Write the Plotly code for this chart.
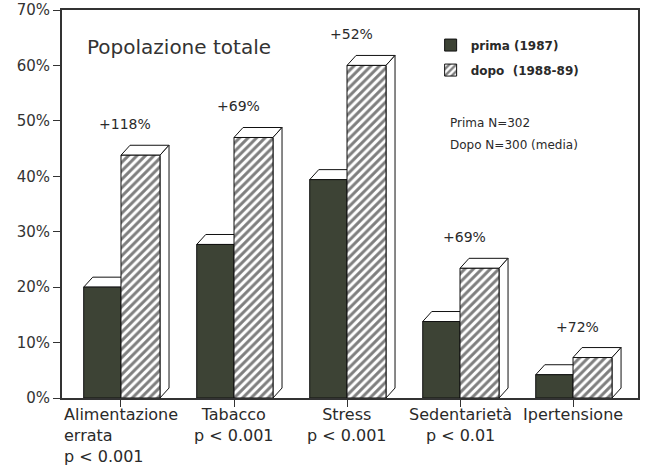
import plotly.graph_objects as go

# Risk factors and survey values (% of the population)
categories = ["Alimentazione", "Tabacco", "Stress", "Sedentarietà", "Ipertensione"]
category_labels = [
    "Alimentazione<br>errata<br>p < 0.001",
    "Tabacco<br>p < 0.001",
    "Stress<br>p < 0.001",
    "Sedentarietà<br>p < 0.01",
    "Ipertensione",
]
prima = [20.0, 27.7, 39.4, 13.8, 4.2]
dopo = [43.8, 47.0, 60.0, 23.4, 7.3]
change_labels = ["+118%", "+69%", "+52%", "+69%", "+72%"]
y_ticks = [0, 10, 20, 30, 40, 50, 60, 70]
y_tick_text = [f"{v}%" for v in y_ticks]

DARK = "#3d4335"
INK = "#2a2a2a"
FONT = "DejaVu Sans"

x_pos = list(range(len(categories)))
W1, W2 = 0.33, 0.345      # bar widths (category units)
DX, DY = 0.08, 1.8        # 3-D depth offset (x units, % units)

fig = go.Figure()
fig.add_trace(go.Bar(
    x=x_pos, y=prima, name="prima (1987)", offset=-W1, width=W1,
    marker=dict(color=DARK, line=dict(color="#111", width=1)),
    legendgroup="a",
))
fig.add_trace(go.Bar(
    x=x_pos, y=dopo, name="dopo\u00a0 (1988-89)", offset=0, width=W2,
    marker=dict(color="white", line=dict(color="#111", width=1),
                pattern=dict(shape="/", size=6, solidity=0.5,
                             fgcolor="#000", bgcolor="white")),
    legendgroup="b",
))

# 3-D faces: top faces and the right-hand side face of the taller bar
shapes = []
face = dict(type="path", xref="x", yref="y", fillcolor="white",
            line=dict(color="#111", width=1), layer="below")
for i, (a, b) in enumerate(zip(prima, dopo)):
    x0 = i - W1
    shapes.append(dict(face, path=(
        f"M{x0},{a} L{i},{a} L{i+DX},{a+DY} L{x0+DX},{a+DY} Z")))
    x1 = i + W2
    shapes.append(dict(face, path=(
        f"M{i},{b} L{x1},{b} L{x1+DX},{b+DY} L{i+DX},{b+DY} Z")))
    shapes.append(dict(face, path=(
        f"M{x1},0 L{x1},{b} L{x1+DX},{b+DY} L{x1+DX},{DY} Z")))

annotations = []
for i, (b, lab) in enumerate(zip(dopo, change_labels)):
    annotations.append(dict(
        x=i, y=b, xref="x", yref="y", text=lab, showarrow=False,
        xshift=4, yshift=31, yanchor="middle",
        font=dict(family=FONT, size=14, color=INK)))

for i, lab in enumerate(category_labels):
    annotations.append(dict(
        x=i, y=0, xref="x", yref="paper", text=lab, showarrow=False,
        yanchor="top", yshift=-5, align="left" if i == 0 else "center",
        font=dict(family=FONT, size=16, color=INK)))

annotations.append(dict(
    x=0.04, y=0.905, xref="paper", yref="paper", text="Popolazione totale",
    showarrow=False, xanchor="left", yanchor="middle",
    font=dict(family=FONT, size=20, color="#333")))
annotations.append(dict(
    x=0.67, y=0.709, xref="paper", yref="paper", text="Prima N=302",
    showarrow=False, xanchor="left", yanchor="middle",
    font=dict(family=FONT, size=12, color=INK)))
annotations.append(dict(
    x=0.67, y=0.652, xref="paper", yref="paper", text="Dopo N=300 (media)",
    showarrow=False, xanchor="left", yanchor="middle",
    font=dict(family=FONT, size=12, color=INK)))

fig.update_layout(
    width=649, height=467,
    margin=dict(l=62, r=11, t=10, b=69, autoexpand=False),
    paper_bgcolor="white", plot_bgcolor="white",
    barmode="overlay",
    shapes=shapes, annotations=annotations,
    showlegend=True,
    legend=dict(x=0.64, y=0.947, xanchor="left", yanchor="top",
                traceorder="grouped", tracegroupgap=6, itemwidth=30,
                bgcolor="rgba(0,0,0,0)",
                font=dict(family=FONT, size=12, color=INK, weight="bold")),
    xaxis=dict(range=[-0.522, 4.575], tickvals=x_pos, showticklabels=False,
               ticks="outside", ticklen=7, tickcolor="#333", tickwidth=1,
               showline=True, linecolor="#333", linewidth=2, mirror=True,
               showgrid=False, zeroline=False, automargin=False),
    yaxis=dict(range=[0, 70], tickmode="array", tickvals=y_ticks,
               ticktext=y_tick_text,
               ticks="outside", ticklen=7, tickcolor="#333", tickwidth=1,
               showline=True, linecolor="#333", linewidth=2, mirror=True,
               showgrid=False, zeroline=False, automargin=False,
               tickfont=dict(family=FONT, size=15, color="#333")),
)

fig.write_html("out.html")
